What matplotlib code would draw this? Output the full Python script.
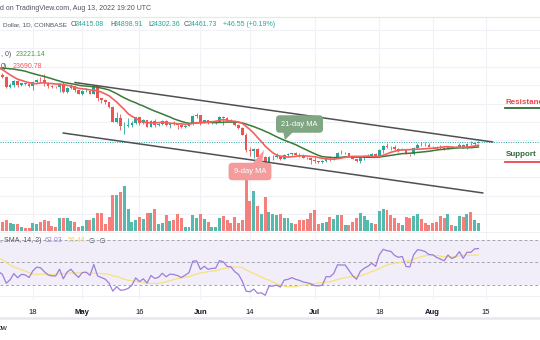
import matplotlib
matplotlib.use('Agg')
import matplotlib.pyplot as plt
import matplotlib.dates as mdates
from matplotlib.lines import Line2D
from matplotlib.patches import Polygon
import numpy as np
import pandas as pd

plt.rcParams['font.family'] = ['Liberation Sans', 'DejaVu Sans']

# closes before the visible window (Mar 10 - Apr 8), only to warm up MA / RSI
warmup_closes = [39400, 38730, 38810, 37780, 39670, 39280, 41110, 40920, 41760, 42200,
                 41260, 41000, 42360, 42890, 43960, 44330, 44500, 46820, 47130, 47450,
                 47060, 45540, 46280, 45810, 46400, 46580, 45500, 43170, 43440, 42250]

# daily candles Apr 9 - Aug 13 2022
first_date = '2022-04-09'
closes = [42760, 42160, 39520, 40070, 41150, 39940, 40550, 40390, 39680, 40800,
          41490, 41360, 40480, 39710, 39450, 39440, 40430, 38120, 39240, 39740,
          38600, 37640, 38470, 38520, 37730, 39690, 36550, 36010, 35470, 34060,
          30100, 31010, 28940, 29030, 29280, 29860, 31300, 29860, 30420, 28720,
          30310, 29200, 29430, 30290, 29100, 29650, 29540, 29200, 28630, 29030,
          29470, 31730, 31800, 29800, 30450, 29700, 29860, 29910, 31370, 31130,
          30200, 30110, 29090, 28420, 26570, 22480, 22140, 22580, 20380, 20470,
          19010, 20560, 20570, 20720, 19970, 21100, 21230, 21500, 21040, 20730,
          20280, 20100, 19780, 19300, 19240, 19300, 20230, 20190, 20550, 21620,
          21590, 21600, 20850, 19960, 19330, 20210, 20580, 20830, 21200, 20790,
          22430, 23400, 23230, 23160, 22680, 22460, 22580, 21310, 21250, 22950,
          23850, 23780, 23640, 23300, 23270, 22990, 22820, 22630, 23310, 22960,
          23170, 23810, 23150, 23950, 23940, 24415.08, 24461.73]
highs = [42800, 43430, 42420, 40700, 41530, 41500, 40700, 40700, 40600, 41100,
         41750, 42200, 42950, 40800, 39980, 39900, 40600, 40790, 39450, 40380,
         39900, 38780, 38650, 39150, 38650, 39900, 39800, 36600, 36130, 35500,
         34250, 32600, 32150, 30000, 30970, 30300, 31330, 31300, 30750, 30650,
         30500, 30700, 29620, 30450, 30650, 29830, 30200, 29850, 29360, 29200,
         29500, 31900, 32380, 31950, 30650, 30650, 29950, 30150, 31750, 31550,
         31300, 30680, 30350, 29450, 28550, 26900, 23330, 22800, 22980, 21350,
         20750, 20800, 21050, 21700, 20860, 21200, 21500, 21580, 21850, 21500,
         21180, 20400, 20150, 20880, 19400, 19650, 20350, 20720, 20650, 21830,
         22500, 21950, 21600, 20870, 20050, 20250, 20850, 21200, 21560, 21650,
         22700, 23700, 24270, 23430, 23750, 22990, 23000, 22650, 21350, 23100,
         24180, 24440, 24650, 24200, 23480, 23450, 23650, 23200, 23450, 23350,
         23380, 24220, 23920, 24200, 24900, 24450, 24898.91]
lows = [42130, 41870, 39200, 39250, 39570, 39570, 39770, 40000, 39550, 38560,
        40580, 40850, 39750, 39200, 39300, 39200, 38200, 37880, 37880, 38880,
        38180, 37600, 37400, 38060, 37510, 37680, 35600, 35260, 34780, 33720,
        30000, 29750, 27800, 26700, 28720, 28610, 29500, 29100, 29500, 28660,
        28650, 28750, 28950, 29250, 28900, 28300, 29300, 28000, 28250, 28500,
        28850, 29300, 31200, 29300, 29600, 29350, 29500, 29500, 29880, 29220,
        29880, 29950, 28850, 28100, 26560, 21900, 20850, 20100, 20250, 20250,
        17600, 17970, 19650, 20350, 19770, 19900, 20730, 20900, 21000, 20520,
        20200, 19850, 18630, 18980, 18970, 18790, 19040, 19320, 19780, 20250,
        21200, 21330, 20650, 19900, 19250, 18910, 19640, 20400, 20500, 20770,
        20770, 21600, 22950, 22350, 22500, 21950, 22300, 21250, 20720, 21050,
        22600, 23450, 23600, 23250, 22850, 22700, 22700, 22450, 22600, 22950,
        22850, 23150, 22880, 22670, 23880, 23600, 24302.36]
first_open = 42250
volumes = [6, 9, 11, 8, 7, 7, 4, 3, 3, 8,
           7, 9, 11, 10, 5, 4, 13, 13, 13, 10,
           9, 4, 5, 11, 11, 13, 18, 18, 7, 14,
           36, 36, 39, 45, 22, 9, 11, 14, 12, 18,
           18, 22, 7, 8, 16, 10, 11, 17, 13, 4,
           4, 16, 13, 17, 12, 9, 4, 4, 13, 15,
           11, 8, 14, 8, 11, 53, 30, 40, 25, 17,
           34, 19, 17, 16, 17, 13, 13, 8, 7, 11,
           11, 12, 18, 21, 7, 8, 9, 14, 12, 16,
           16, 6, 6, 9, 13, 18, 15, 11, 8, 7,
           20, 22, 21, 16, 13, 8, 6, 14, 13, 15,
           17, 12, 8, 6, 8, 9, 15, 13, 17, 6,
           5, 15, 14, 17, 19, 11, 8]  # thousand BTC

tick_dates = ['2022-04-18', '2022-05-01', '2022-05-16', '2022-06-01', '2022-06-14',
              '2022-07-01', '2022-07-18', '2022-08-01', '2022-08-15']
tick_labels = ['18', 'May', '16', 'Jun', '14', 'Jul', '18', 'Aug', '15']

# channel drawn on the chart
upper_line_dates = ['2022-04-29 01:00', '2022-08-16 19:00']
upper_line_prices = [40730, 24560]
lower_line_dates = ['2022-04-25 22:00', '2022-08-14 05:00']
lower_line_prices = [27010, 10710]

price_grid = [5000, 10000, 15000, 20000, 25000, 30000, 35000, 40000, 45000, 50000, 55000]
rsi_grid = [20, 40, 60]

UP, DOWN = '#26a69a', '#ef5350'
UP_V, DOWN_V = '#56b9ac', '#f57f7a'
TXT = '#50535e'
W, H = 540, 340


def fy(y):
    return 1 - y / H


def fx(x):
    return x / W


dates = pd.date_range(first_date, periods=len(closes), freq='D')
x = mdates.date2num(dates)
opens = np.array([first_open] + closes[:-1], dtype=float)
c = np.array(closes, dtype=float)
up = c >= opens

all_close = pd.Series(warmup_closes + closes, dtype=float)
n0 = len(warmup_closes)
ma9 = all_close.rolling(9).mean().values[n0:]
ma21 = all_close.rolling(21).mean().values[n0:]
delta = all_close.diff()
gain = delta.clip(lower=0).ewm(alpha=1 / 14, adjust=False).mean()
loss = (-delta.clip(upper=0)).ewm(alpha=1 / 14, adjust=False).mean()
rsi = 100 - 100 / (1 + gain / loss)
rsi_ma = rsi.rolling(14).mean()
rsi = rsi.values[n0:]
rsi_ma = rsi_ma.values[n0:]

px_per_day = 3.808
x_left = x[0] + 0.37
x_right = x_left + W / px_per_day

fig = plt.figure(figsize=(W / 100, H / 100), dpi=100)
fig.patch.set_facecolor('white')

# main pane (price), volume overlay, RSI pane
ax = fig.add_axes([0, fy(231), 1, 214 / H])
ax.set_xlim(x_left, x_right)
ax.set_ylim(380, 58530)
axv = fig.add_axes([0, fy(231), 1, 214 / H], sharex=ax)
axv.set_ylim(0, 214)
axv.patch.set_visible(False)
axr = fig.add_axes([0, fy(300), 1, 68 / H], sharex=ax)
axr.set_ylim(16.2, 76.9)

tx = mdates.date2num(pd.to_datetime(tick_dates))
for a in (ax, axv, axr):
    for s in a.spines.values():
        s.set_visible(False)
    a.tick_params(left=False, right=False, labelleft=False, bottom=False, labelbottom=False)

for t in tx:
    ax.axvline(t, color='#f0f2f7', lw=0.8, zorder=0)
    axr.axvline(t, color='#f0f2f7', lw=0.8, zorder=0)
for p in price_grid:
    ax.axhline(p, color='#f0f2f7', lw=0.8, zorder=0)
for r in rsi_grid:
    axr.axhline(r, color='#f0f2f7', lw=0.8, zorder=0)

# candles
lo = np.minimum(opens, c)
hi = np.maximum(opens, c)
cols = np.where(up, UP, DOWN)
ax.vlines(x, lows, highs, colors=cols, lw=0.6, zorder=3)
ax.bar(x, np.maximum(hi - lo, 60), bottom=lo, width=0.72, color=cols, lw=0, zorder=4)

# moving averages
ax.plot(x, ma21, color='#3a7a38', lw=1.1, zorder=5)
ax.plot(x, ma9, color='#f2605f', lw=1.2, zorder=5)

# last price line
ax.axhline(closes[-1], color=UP, lw=0.7, ls=(0, (1, 1.5)), zorder=2)

# channel
ax.plot(mdates.date2num(pd.to_datetime(upper_line_dates)), upper_line_prices,
        color='#505050', lw=1.1, zorder=6, solid_capstyle='round')
ax.plot(mdates.date2num(pd.to_datetime(lower_line_dates)), lower_line_prices,
        color='#505050', lw=1.1, zorder=6, solid_capstyle='round')

# volume
axv.bar(x, volumes, width=0.78, color=np.where(up, UP_V, DOWN_V), lw=0, zorder=2)

# RSI pane
axr.fill_between([x_left, x_right], 30, 70, color='#f1edf9', lw=0, zorder=0)
for lvl in (30, 50, 70):
    axr.axhline(lvl, color='#a3a6af', lw=0.7, ls=(0, (3, 2.5)), zorder=1)
axr.plot(x, rsi_ma, color='#f7e27c', lw=0.9, zorder=3)
axr.plot(x, rsi, color='#9b7fd9', lw=0.9, zorder=4)

axr.tick_params(bottom=False, labelbottom=True, pad=3, labelsize=5.5, labelcolor='#131722')
axr.set_xticks(tx)
axr.set_xticklabels(tick_labels)
for lab in axr.get_xticklabels():
    if not lab.get_text().isdigit():
        lab.set_fontweight('bold')

# frame lines
fig.add_artist(Line2D([0, 1], [fy(16.5), fy(16.5)], color='#e6e8ee', lw=0.9))
fig.add_artist(Line2D([0, 1], [fy(231.5), fy(231.5)], color='#eceef3', lw=0.6))
fig.add_artist(Line2D([0, 1], [fy(318), fy(318)], color='#e6e8ee', lw=1.8))

# header
fig.text(fx(0), fy(8), 'd on TradingView.com, Aug 13, 2022 19:20 UTC', fontsize=5,
         color=TXT, va='center')
fig.text(fx(3), fy(25), 'Dollar, 1D, COINBASE', fontsize=4.6, color=TXT, va='center')
hdr = [(71, 'O', TXT), (75, '24415.08', UP), (110, 'H', TXT), (114, '24898.91', UP),
       (148, 'L', TXT), (151, '24302.36', UP), (184, 'C', TXT), (188, '24461.73', UP),
       (223, '+46.55 (+0.19%)', UP)]
for xx, s, col in hdr:
    fig.text(fx(xx), fy(25), s, fontsize=5, color=col, va='center')

fig.text(fx(1), fy(55), ', 0)', fontsize=5, color=TXT, va='center')
fig.text(fx(16), fy(55), '23221.14', fontsize=5, color='#43a047', va='center')
fig.text(fx(1), fy(66), '0)', fontsize=5, color=TXT, va='center')
fig.text(fx(13), fy(66), '23690.78', fontsize=5, color='#f7525f', va='center')

fig.text(fx(0), fy(241), ', SMA, 14, 2)', fontsize=5, color=TXT, va='center')
fig.text(fx(45), fy(241), '62.03', fontsize=5, color='#9b7fd9', va='center')
fig.text(fx(68), fy(241), '56.44', fontsize=5, color='#f2d55a', va='center')
fig.text(fx(89), fy(241), '\u2205  \u2205', fontsize=5, color=TXT, va='center',
         family=['DejaVu Sans'])

fig.text(fx(-2), fy(329), 'ow', fontsize=5.5, color='#131722', va='center')

# callouts: rounded box plus a small tail
G_BOX, R_BOX = '#80a683', '#f49c9c'
fig.text(fx(299.5), fy(124), '21-day MA', ha='center', va='center', fontsize=5.4,
         color='white', zorder=11,
         bbox=dict(boxstyle='round,pad=0.7,rounding_size=0.5', fc=G_BOX, ec='none'))
fig.add_artist(Polygon([(fx(283), fy(131)), (fx(294), fy(131)), (fx(285), fy(140))],
                       closed=True, fc=G_BOX, ec='none', transform=fig.transFigure, zorder=10))
fig.text(fx(250), fy(171.5), '9-day MA', ha='center', va='center', fontsize=5.4,
         color='white', zorder=11,
         bbox=dict(boxstyle='round,pad=0.7,rounding_size=0.5', fc=R_BOX, ec='none'))
fig.add_artist(Polygon([(fx(252), fy(164)), (fx(262), fy(164)), (fx(264), fy(150))],
                       closed=True, fc=R_BOX, ec='none', transform=fig.transFigure, zorder=10))

# support / resistance labels
fig.text(fx(506), fy(102), 'Resistance', fontsize=5.8, fontweight='bold', color='#e8474c',
         va='center')
fig.add_artist(Line2D([fx(505), fx(541)], [fy(107.5), fy(107.5)], color='#2f6b35', lw=1.3))
fig.text(fx(506), fy(155), 'Support', fontsize=5.8, fontweight='bold', color='#2f6b35',
         va='center')
fig.add_artist(Line2D([fx(505), fx(541)], [fy(161.5), fy(161.5)], color='#e8474c', lw=1.3))

fig.savefig('out.png', dpi=100)
